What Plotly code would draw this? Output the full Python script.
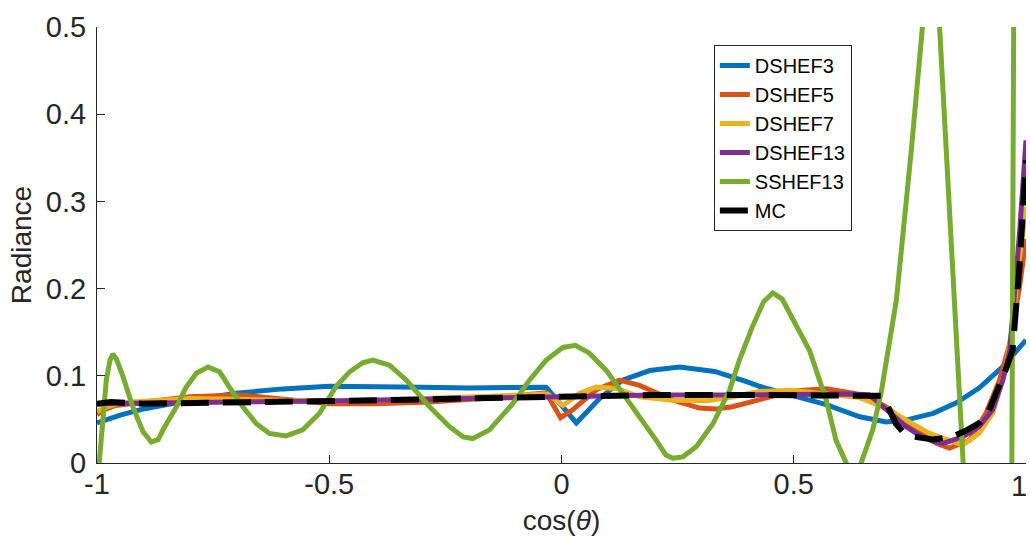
import plotly.graph_objects as go

# Radiance vs. cos(theta) for several harmonic-expansion orders and a Monte Carlo reference
x_dshef3 = [-1.0, -0.95, -0.9, -0.8, -0.7, -0.6, -0.5, -0.4, -0.3, -0.2, -0.1, -0.033,
            0.032, 0.082, 0.131, 0.19, 0.254, 0.33, 0.4, 0.426, 0.5, 0.57, 0.642, 0.699,
            0.748, 0.8, 0.85, 0.899, 0.949, 1.0]
y_dshef3 = [0.046, 0.055, 0.062, 0.072, 0.080, 0.085, 0.088, 0.088, 0.087, 0.086, 0.086, 0.087,
            0.046, 0.074, 0.095, 0.106, 0.110, 0.105, 0.093, 0.088, 0.077, 0.067, 0.053, 0.047,
            0.050, 0.057, 0.069, 0.086, 0.110, 0.141]

x_dshef5 = [-1.0, -0.99, -0.96, -0.887, -0.8, -0.693, -0.585, -0.5, -0.4, -0.284, -0.17, -0.069,
            -0.033, -0.002, 0.024, 0.075, 0.125, 0.168, 0.24, 0.297, 0.333, 0.368, 0.43, 0.497,
            0.57, 0.627, 0.66, 0.699, 0.756, 0.807, 0.835, 0.878, 0.914, 0.943, 0.965, 0.986, 1.0]
y_dshef5 = [0.055, 0.060, 0.066, 0.070, 0.076, 0.078, 0.073, 0.068, 0.068, 0.070, 0.074, 0.078,
            0.0805, 0.052, 0.061, 0.084, 0.095, 0.089, 0.072, 0.063, 0.062, 0.0645, 0.073, 0.0825,
            0.085, 0.080, 0.075, 0.0645, 0.0416, 0.0225, 0.017, 0.026, 0.057, 0.095, 0.137, 0.202, 0.257]

x_dshef7 = [-1.0, -0.98, -0.95, -0.9, -0.8, -0.7, -0.6, -0.5, -0.4, -0.3, -0.2, -0.1, -0.03,
            0.003, 0.039, 0.075, 0.118, 0.168, 0.239, 0.312, 0.37, 0.426, 0.497, 0.57, 0.642,
            0.699, 0.735, 0.792, 0.842, 0.864, 0.899, 0.928, 0.954, 0.968, 0.986, 1.0]
y_dshef7 = [0.059, 0.064, 0.069, 0.071, 0.074, 0.073, 0.072, 0.071, 0.072, 0.074, 0.075, 0.077, 0.079,
            0.066, 0.080, 0.087, 0.0855, 0.076, 0.072, 0.0715, 0.076, 0.082, 0.0835, 0.079, 0.075,
            0.0625, 0.051, 0.034, 0.0245, 0.0206, 0.034, 0.057, 0.103, 0.145, 0.236, 0.294]

x_dshef13 = [-1.0, -0.9, -0.7, -0.5, -0.3, -0.1, 0.0, 0.2, 0.4, 0.55, 0.63, 0.663, 0.705,
             0.742, 0.77, 0.799, 0.821, 0.864, 0.899, 0.928, 0.95, 0.965, 0.986, 1.0]
y_dshef13 = [0.068, 0.069, 0.070, 0.071, 0.073, 0.075, 0.077, 0.078, 0.078, 0.079, 0.079, 0.078, 0.059,
             0.0416, 0.032, 0.025, 0.0225, 0.030, 0.0416, 0.061, 0.095, 0.129, 0.263, 0.37]

x_sshef13 = [-1.0, -0.99, -0.98, -0.972, -0.966, -0.958, -0.944, -0.923, -0.901, -0.883, -0.868,
             -0.858, -0.829, -0.808, -0.786, -0.761, -0.736, -0.715, -0.686, -0.657, -0.629,
             -0.593, -0.557, -0.521, -0.485, -0.456, -0.428, -0.406, -0.37, -0.334, -0.284,
             -0.241, -0.212, -0.191, -0.155, -0.105, -0.069, -0.033, 0.003, 0.03, 0.06, 0.096,
             0.132, 0.168, 0.204, 0.225, 0.24, 0.261, 0.29, 0.326, 0.362, 0.383, 0.41, 0.435,
             0.455, 0.475, 0.50, 0.534, 0.57, 0.591, 0.613, 0.63, 0.645, 0.67, 0.688, 0.721,
             0.753, 0.774, 0.794, 0.814, 0.828, 0.846, 0.863, 0.89, 0.92, 0.945, 0.968, 0.985, 1.0]
y_sshef13 = [-0.03, 0.04, 0.095, 0.118, 0.125, 0.119, 0.099, 0.0645, 0.036, 0.024, 0.027,
             0.038, 0.0645, 0.087, 0.103, 0.110, 0.1046, 0.087, 0.0645, 0.045, 0.034,
             0.031, 0.038, 0.057, 0.088, 0.1046, 0.115, 0.118, 0.112, 0.095, 0.0645,
             0.0416, 0.030, 0.028, 0.038, 0.068, 0.095, 0.118, 0.1325, 0.135, 0.126, 0.1065,
             0.080, 0.053, 0.026, 0.009, 0.0054, 0.007, 0.0187, 0.045, 0.0836, 0.118, 0.155, 0.185,
             0.195, 0.188, 0.163, 0.129, 0.072, 0.026, 0.0, -0.03, 0.0, 0.038, 0.080, 0.187,
             0.358, 0.50, 0.60, 0.50, 0.358, 0.187, 0.0, -0.25, -0.45, -0.40, -0.20, 2.0, 3.0]

x_mc = [-1.0, -0.97, -0.9, -0.7, -0.5, -0.3, -0.1, 0.0, 0.2, 0.4, 0.6, 0.69, 0.705, 0.72,
        0.735, 0.76, 0.80, 0.84, 0.87, 0.90, 0.92, 0.94, 0.955, 0.971, 0.986, 1.0]
y_mc = [0.068, 0.070, 0.068, 0.069, 0.071, 0.073, 0.075, 0.077, 0.078, 0.078, 0.078, 0.077, 0.062, 0.045,
        0.036, 0.030, 0.027, 0.030, 0.037, 0.046, 0.060, 0.085, 0.105, 0.129, 0.225, 0.347]

series = [
    ("DSHEF3", x_dshef3, y_dshef3, "#0072BD", "solid", 5),
    ("DSHEF5", x_dshef5, y_dshef5, "#D95319", "solid", 5),
    ("DSHEF7", x_dshef7, y_dshef7, "#EDB120", "solid", 5),
    ("DSHEF13", x_dshef13, y_dshef13, "#7E2F8E", "solid", 5),
    ("SSHEF13", x_sshef13, y_sshef13, "#77AC30", "solid", 5),
    ("MC", x_mc, y_mc, "#000000", "28px,14px", 6),
]

x_ticks = [-1, -0.5, 0, 0.5, 1]
x_ticktext = ["-1", "-0.5", "0", "0.5", "1"]
y_ticks = [0, 0.1, 0.2, 0.3, 0.4, 0.5]
y_ticktext = ["0", "0.1", "0.2", "0.3", "0.4", "0.5"]

fig = go.Figure()
for name, xs, ys, color, dash, width in series:
    fig.add_trace(go.Scatter(x=xs, y=ys, mode="lines", name=name,
                             line=dict(color=color, width=width, dash=dash)))

axis_color = "#262626"
font_family = "Liberation Sans, Arial, Helvetica, sans-serif"

# The last x tick label sits on the figure edge, so it is placed as a
# right-anchored annotation to keep it inside the page.
edge_label = x_ticktext[-1]
axis_ticktext = x_ticktext[:-1] + [""]

fig.update_layout(
    width=1030, height=537,
    margin=dict(l=97, r=4, t=27, b=74, autoexpand=False),
    plot_bgcolor="white", paper_bgcolor="white",
    font=dict(family=font_family, size=29, color=axis_color),
    showlegend=True,
    legend=dict(
        x=0.664, y=0.959, xanchor="left", yanchor="top",
        bgcolor="white", bordercolor=axis_color, borderwidth=1,
        font=dict(family=font_family, size=20, color="#000000"),
        tracegroupgap=0, itemwidth=30,
    ),
    annotations=[dict(
        x=x_ticks[-1], xref="x", y=0, yref="paper",
        xanchor="right", yanchor="top", xshift=3, yshift=-5,
        text=edge_label, showarrow=False,
        font=dict(family=font_family, size=29, color=axis_color),
    )],
)

fig.update_xaxes(
    range=[-1, 1], tickvals=x_ticks, ticktext=axis_ticktext,
    ticks="inside", ticklen=8, tickwidth=1, tickcolor=axis_color,
    showline=True, linecolor=axis_color, linewidth=1, mirror=False,
    showgrid=False, zeroline=False, ticklabelstandoff=-5,
    ticklabeloverflow="allow", automargin=False,
    title=dict(text="cos(<i>θ</i>)", standoff=11, font=dict(size=28)),
)
fig.update_yaxes(
    range=[0, 0.5], tickvals=y_ticks, ticktext=y_ticktext,
    ticks="inside", ticklen=8, tickwidth=1, tickcolor=axis_color,
    showline=True, linecolor=axis_color, linewidth=1, mirror=False,
    showgrid=False, zeroline=False, ticklabelstandoff=4, automargin=False,
    title=dict(text="Radiance", standoff=6, font=dict(size=28)),
)

fig.write_html("out.html")
